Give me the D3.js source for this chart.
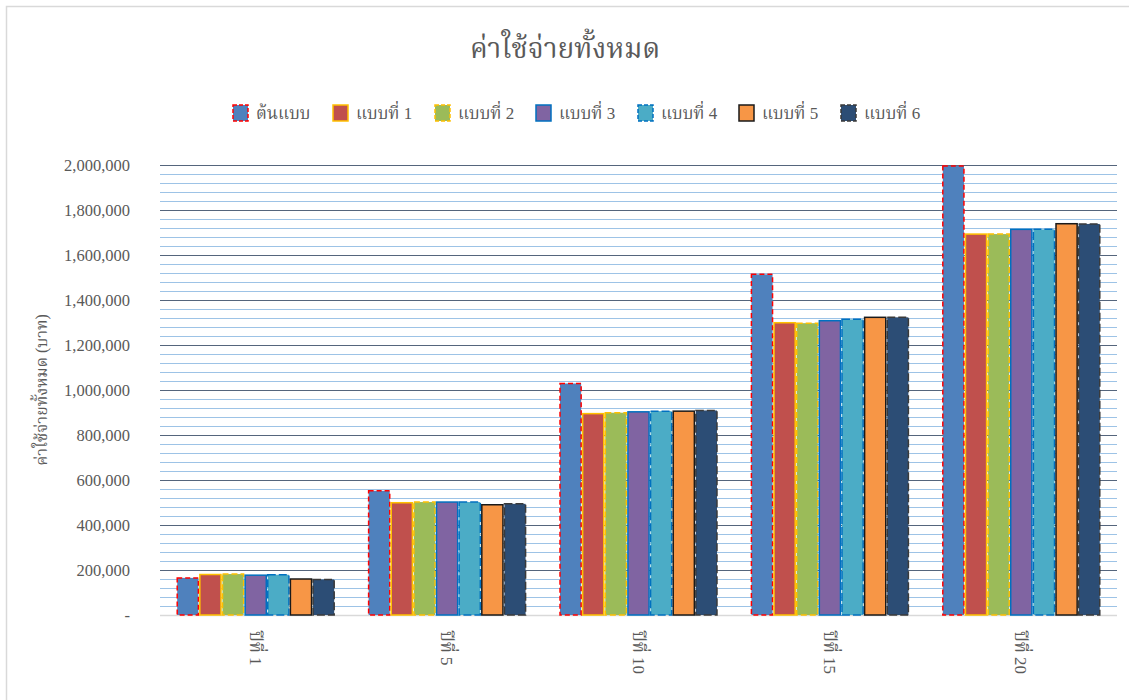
<!DOCTYPE html>
<html>
<head>
<meta charset="utf-8">
<script src="https://cdn.jsdelivr.net/npm/d3@7"></script>
<style>
  html, body { margin: 0; padding: 0; background: #fff; }
  svg text { font-family: "Liberation Serif", "Noto Serif Thai", "Noto Sans Thai", "Noto Sans", serif; fill: #595959; }
</style>
</head>
<body>
<svg id="chart" width="1129" height="700"></svg>
<script>
const categories = ["ปีที่ 1", "ปีที่ 5", "ปีที่ 10", "ปีที่ 15", "ปีที่ 20"];
const seriesNames = ["ต้นแบบ", "แบบที่ 1", "แบบที่ 2", "แบบที่ 3", "แบบที่ 4", "แบบที่ 5", "แบบที่ 6"];
const base   = [165000, 552000, 1029000, 1514000, 1996000];
const model1 = [180000, 499000, 895000, 1299000, 1693000];
const model2 = [182000, 502000, 899000, 1297000, 1693000];
const model3 = [177000, 502000, 903000, 1308000, 1714000];
const model4 = [179000, 502000, 906000, 1314000, 1714000];
const model5 = [160000, 490000, 906000, 1323000, 1739000];
const model6 = [158000, 494000, 909000, 1323000, 1738000];
const seriesValues = [base, model1, model2, model3, model4, model5, model6];
const yTicks = [0, 200000, 400000, 600000, 800000, 1000000, 1200000, 1400000, 1600000, 1800000, 2000000];

const fills   = ["#4F81BD", "#C0504D", "#9BBB59", "#8064A2", "#4BACC6", "#F79646", "#2C4D75"];
const strokes = ["#FF0000", "#FFC000", "#FFC000", "#0070C0", "#0070C0", "#1a1a1a", "#3a3a3a"];
const dashes  = ["5,3", null, "6,3", null, "8,3", null, "8,3"];

const svg = d3.select("#chart");

// outer frame
svg.append("rect").attr("x", 6.5).attr("y", 6.5).attr("width", 1140).attr("height", 720)
  .attr("fill", "none").attr("stroke", "#d9d9d9").attr("stroke-width", 1.5);

const pLeft = 160, pRight = 1117, pTop = 165, pBottom = 615;
const y = d3.scaleLinear().domain([0, 2000000]).range([pBottom, pTop]);
const x0 = d3.scaleBand().domain(categories).range([pLeft, pRight]).paddingInner(0.172).paddingOuter(0.086);
const x1 = d3.scaleBand().domain(seriesNames).range([0, x0.bandwidth()]).padding(0);

// minor gridlines
const minor = d3.range(0, 2000001, 40000).filter(v => v % 200000 !== 0);
svg.append("g").selectAll("line").data(minor).join("line")
  .attr("x1", pLeft).attr("x2", pRight)
  .attr("y1", d => Math.round(y(d)) + 0.5).attr("y2", d => Math.round(y(d)) + 0.5)
  .attr("stroke", "#9DC3E6").attr("stroke-width", 1);

// major gridlines
svg.append("g").selectAll("line").data(yTicks.filter(v => v > 0)).join("line")
  .attr("x1", pLeft).attr("x2", pRight)
  .attr("y1", d => Math.round(y(d)) + 0.5).attr("y2", d => Math.round(y(d)) + 0.5)
  .attr("stroke", "#55657c").attr("stroke-width", 1);

// baseline
svg.append("line").attr("x1", pLeft).attr("x2", pRight)
  .attr("y1", pBottom + 0.5).attr("y2", pBottom + 0.5)
  .attr("stroke", "#d9d9d9").attr("stroke-width", 1.5);

// y axis
const yAxis = d3.axisLeft(y).tickValues(yTicks).tickSize(0).tickPadding(0)
  .tickFormat(d => d === 0 ? "-" : d3.format(",")(d));
const yg = svg.append("g").attr("transform", `translate(${130},0)`).call(yAxis);
yg.select(".domain").remove();
yg.selectAll("text").style("font-size", "16.5px").attr("fill", "#595959");

// bars
const groups = svg.append("g").selectAll("g").data(categories).join("g")
  .attr("transform", d => `translate(${x0(d)},0)`);
groups.selectAll("rect")
  .data((c, ci) => seriesNames.map((s, si) => ({ s, si, v: seriesValues[si][ci] })))
  .join("rect")
  .attr("x", d => x1(d.s) + 0.75)
  .attr("width", x1.bandwidth() - 1.5)
  .attr("y", d => y(d.v))
  .attr("height", d => y(0) - y(d.v))
  .attr("fill", d => fills[d.si])
  .attr("stroke", d => strokes[d.si])
  .attr("stroke-width", 1.5)
  .attr("stroke-dasharray", d => dashes[d.si]);

// x labels
svg.append("g").selectAll("text").data(categories).join("text")
  .attr("transform", d => `translate(${x0(d) + x0.bandwidth() / 2 - 6},${631}) rotate(90)`)
  .attr("text-anchor", "start")
  .style("font-size", "17px")
  .text(d => d);

// title
svg.append("text").attr("x", 565).attr("y", 58).attr("text-anchor", "middle")
  .style("font-size", "28px").text("ค่าใช้จ่ายทั้งหมด");

// y axis title
svg.append("text").attr("transform", `translate(${47},${390}) rotate(-90)`)
  .attr("text-anchor", "middle").style("font-size", "16px").text("ค่าใช้จ่ายทั้งหมด (บาท)");

// legend
const legendX = [233, 333, 435, 536, 638, 739, 841];
const lg = svg.append("g").selectAll("g").data(seriesNames).join("g")
  .attr("transform", (d, i) => `translate(${legendX[i]},${105})`);
lg.append("rect").attr("width", 15).attr("height", 16)
  .attr("fill", (d, i) => fills[i]).attr("stroke", (d, i) => strokes[i])
  .attr("stroke-width", 1.5).attr("stroke-dasharray", (d, i) => dashes[i] ? "4,2" : null);
lg.append("text").attr("x", 23).attr("y", 14).style("font-size", "17px").text(d => d);
</script>
</body>
</html>
